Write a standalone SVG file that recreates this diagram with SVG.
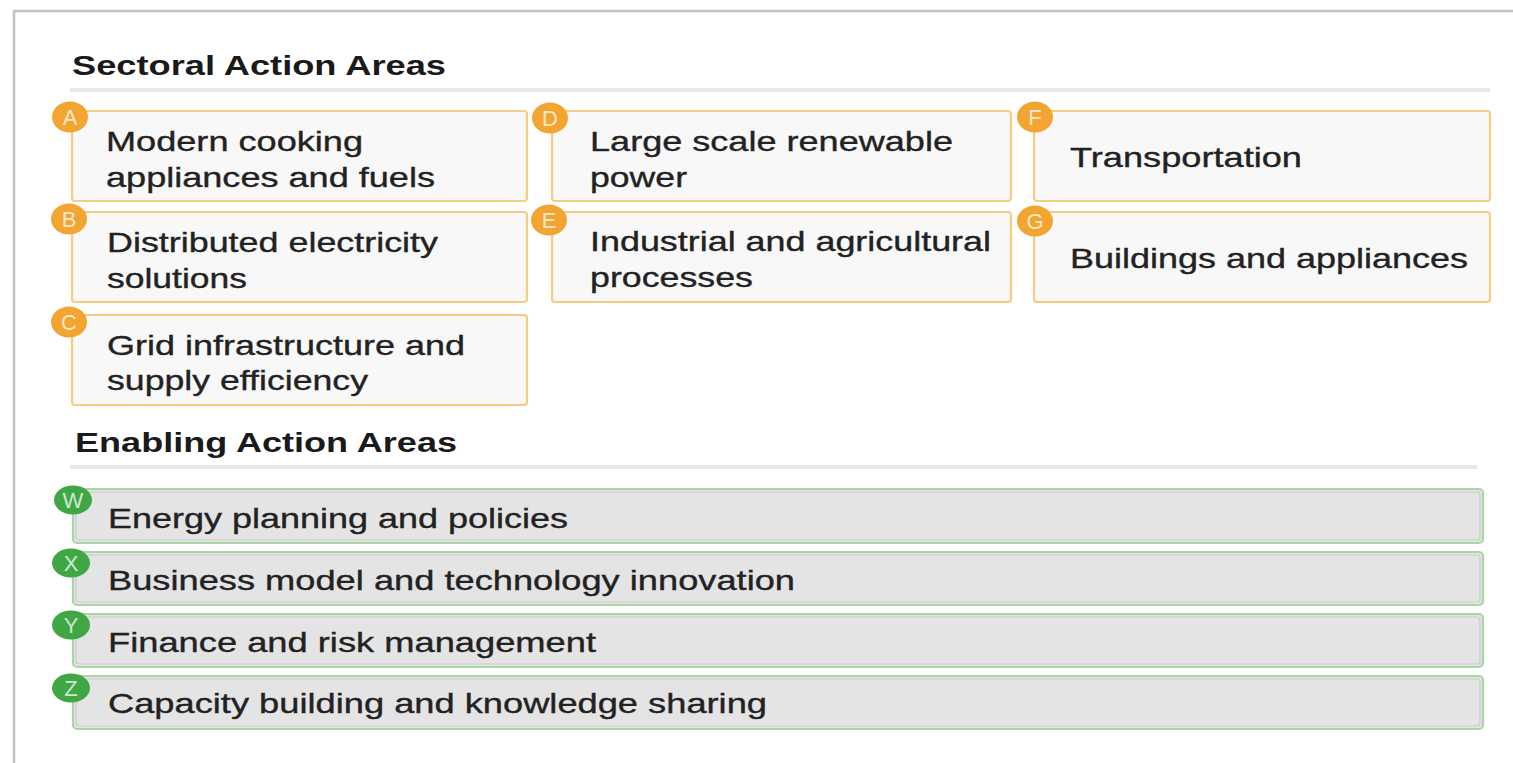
<svg xmlns="http://www.w3.org/2000/svg" width="1513" height="763" viewBox="0 0 1513 763">
<style>
.frame{fill:none;stroke:#c4c4c4;stroke-width:2.5}
.sep{stroke:#e8e8e8;stroke-width:4}
.title{font-family:"Liberation Sans",Arial,sans-serif;font-weight:bold;font-size:27px;fill:#1a1a1a}
.sbox{fill:#f8f8f8;stroke:#f6cd80;stroke-width:2.2}
.gbox{fill:#e4e4e4;stroke:#a9d7a4;stroke-width:2.2}
.gin{fill:none;stroke:#c9cdc9;stroke-width:1.2}
.ocirc{fill:#f2a531}
.gcirc{fill:#3fa744}
.lt{font-family:"Liberation Sans",Arial,sans-serif;font-size:22px;fill:#ffffff;fill-opacity:0.75;text-anchor:middle}
.tx{font-family:"Liberation Sans",Arial,sans-serif;font-size:28px;fill:#222222;stroke:#222222;stroke-width:0.35}
</style>
<rect x="0" y="0" width="1513" height="763" fill="#ffffff"/>
<path class="frame" d="M14,763 V11 H1513"/>
<g id="header-sectoral">
<text class="title" x="72" y="75" textLength="374" lengthAdjust="spacingAndGlyphs">Sectoral Action Areas</text>
<line class="sep" x1="70" y1="90" x2="1490" y2="90"/>
</g>
<g id="header-enabling">
<text class="title" x="75" y="452" textLength="382" lengthAdjust="spacingAndGlyphs">Enabling Action Areas</text>
<line class="sep" x1="70" y1="467" x2="1477" y2="467"/>
</g>
<g id="connectors"></g>
<g id="node-A">
<rect class="sbox" x="72" y="111" width="455" height="90" rx="3"/>
<ellipse class="ocirc" cx="70" cy="117" rx="18" ry="15.5"/>
<text class="lt" x="70" y="125">A</text>
<text class="tx" x="106" y="151" textLength="257" lengthAdjust="spacingAndGlyphs">Modern cooking</text>
<text class="tx" x="106" y="187" textLength="329" lengthAdjust="spacingAndGlyphs">appliances and fuels</text>
</g>
<g id="node-B">
<rect class="sbox" x="72" y="212" width="455" height="90" rx="3"/>
<ellipse class="ocirc" cx="69" cy="219" rx="18" ry="15.5"/>
<text class="lt" x="69" y="227">B</text>
<text class="tx" x="107" y="252" textLength="331" lengthAdjust="spacingAndGlyphs">Distributed electricity</text>
<text class="tx" x="107" y="288" textLength="140" lengthAdjust="spacingAndGlyphs">solutions</text>
</g>
<g id="node-C">
<rect class="sbox" x="72" y="315" width="455" height="90" rx="3"/>
<ellipse class="ocirc" cx="69" cy="322" rx="18" ry="15.5"/>
<text class="lt" x="69" y="330">C</text>
<text class="tx" x="107" y="355" textLength="358" lengthAdjust="spacingAndGlyphs">Grid infrastructure and</text>
<text class="tx" x="107" y="390" textLength="261" lengthAdjust="spacingAndGlyphs">supply efficiency</text>
</g>
<g id="node-D">
<rect class="sbox" x="552" y="111" width="459" height="90" rx="3"/>
<ellipse class="ocirc" cx="550" cy="118" rx="18" ry="15.5"/>
<text class="lt" x="550" y="126">D</text>
<text class="tx" x="590" y="151" textLength="363" lengthAdjust="spacingAndGlyphs">Large scale renewable</text>
<text class="tx" x="590" y="187" textLength="97" lengthAdjust="spacingAndGlyphs">power</text>
</g>
<g id="node-E">
<rect class="sbox" x="552" y="212" width="459" height="90" rx="3"/>
<ellipse class="ocirc" cx="549" cy="220" rx="18" ry="15.5"/>
<text class="lt" x="549" y="228">E</text>
<text class="tx" x="590" y="251" textLength="401" lengthAdjust="spacingAndGlyphs">Industrial and agricultural</text>
<text class="tx" x="590" y="287" textLength="163" lengthAdjust="spacingAndGlyphs">processes</text>
</g>
<g id="node-F">
<rect class="sbox" x="1034" y="111" width="456" height="90" rx="3"/>
<ellipse class="ocirc" cx="1035" cy="117" rx="18" ry="15.5"/>
<text class="lt" x="1035" y="125">F</text>
<text class="tx" x="1070" y="167" textLength="232" lengthAdjust="spacingAndGlyphs">Transportation</text>
</g>
<g id="node-G">
<rect class="sbox" x="1034" y="212" width="456" height="90" rx="3"/>
<ellipse class="ocirc" cx="1035" cy="221" rx="18" ry="15.5"/>
<text class="lt" x="1035" y="229">G</text>
<text class="tx" x="1070" y="268" textLength="398" lengthAdjust="spacingAndGlyphs">Buildings and appliances</text>
</g>
<g id="node-W">
<rect class="gbox" x="73" y="489" width="1410" height="54" rx="4"/>
<rect class="gin" x="76" y="492" width="1404" height="48" rx="3"/>
<ellipse class="gcirc" cx="73" cy="500" rx="19" ry="14.5"/>
<text class="lt" x="73" y="508">W</text>
<text class="tx" x="108" y="528" textLength="460" lengthAdjust="spacingAndGlyphs">Energy planning and policies</text>
</g>
<g id="node-X">
<rect class="gbox" x="73" y="552" width="1410" height="53" rx="4"/>
<rect class="gin" x="76" y="555" width="1404" height="47" rx="3"/>
<ellipse class="gcirc" cx="71" cy="563" rx="19" ry="14.5"/>
<text class="lt" x="71" y="571">X</text>
<text class="tx" x="108" y="590" textLength="687" lengthAdjust="spacingAndGlyphs">Business model and technology innovation</text>
</g>
<g id="node-Y">
<rect class="gbox" x="73" y="614" width="1410" height="53" rx="4"/>
<rect class="gin" x="76" y="617" width="1404" height="47" rx="3"/>
<ellipse class="gcirc" cx="71" cy="625" rx="19" ry="14.5"/>
<text class="lt" x="71" y="633">Y</text>
<text class="tx" x="108" y="652" textLength="488" lengthAdjust="spacingAndGlyphs">Finance and risk management</text>
</g>
<g id="node-Z">
<rect class="gbox" x="73" y="676" width="1410" height="53" rx="4"/>
<rect class="gin" x="76" y="679" width="1404" height="47" rx="3"/>
<ellipse class="gcirc" cx="71" cy="688" rx="19" ry="14.5"/>
<text class="lt" x="71" y="696">Z</text>
<text class="tx" x="108" y="713" textLength="659" lengthAdjust="spacingAndGlyphs">Capacity building and knowledge sharing</text>
</g>
</svg>
